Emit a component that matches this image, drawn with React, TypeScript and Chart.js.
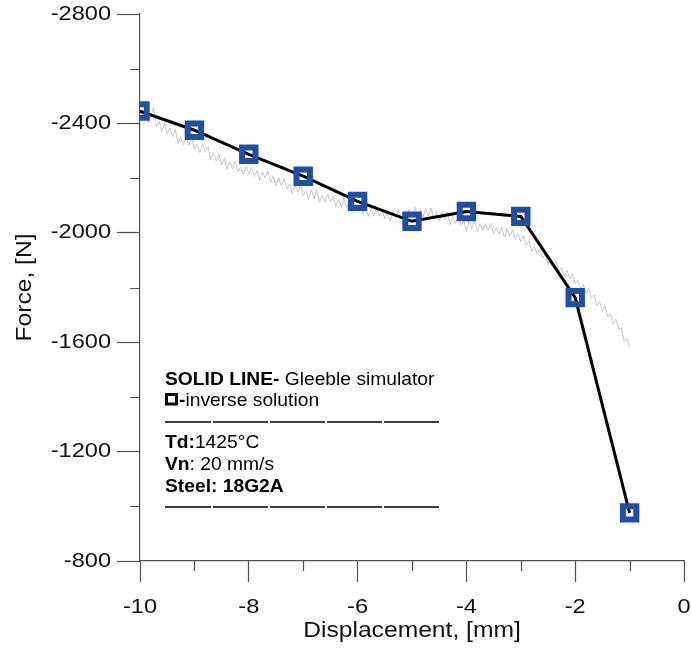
import React, { useEffect, useRef } from "react";
import { Chart, registerables } from "chart.js";

Chart.register(...registerables);

// ---- data ----
const inverseX = [-10, -9, -8, -7, -6, -5, -4, -3, -2, -1];
const inverseForce = [-2445, -2375, -2287, -2207, -2115, -2042, -2078, -2060, -1763, -976];

// Gleeble simulator record, sampled every 0.05 mm from -10 mm
const gleebleStart = -10;
const gleebleStep = 0.05;
const gleebleForce = [
  -2450, -2429, -2446, -2403, -2426, -2459, -2387, -2408, -2370, -2400,
  -2360, -2383, -2350, -2378, -2326, -2351, -2321, -2348, -2319, -2347,
  -2305, -2325, -2293, -2325, -2295, -2315, -2267, -2293, -2263, -2287,
  -2248, -2273, -2232, -2259, -2235, -2263, -2223, -2241, -2212, -2243,
  -2216, -2241, -2205, -2227, -2192, -2223, -2200, -2225, -2184, -2207,
  -2172, -2202, -2171, -2197, -2159, -2179, -2143, -2175, -2148, -2174,
  -2136, -2153, -2123, -2156, -2124, -2155, -2112, -2136, -2112, -2142,
  -2112, -2133, -2096, -2123, -2094, -2127, -2092, -2109, -2076, -2109,
  -2082, -2107, -2070, -2089, -2060, -2089, -2061, -2093, -2061, -2085,
  -2050, -2076, -2042, -2078, -2053, -2086, -2051, -2076, -2050, -2087,
  -2062, -2095, -2060, -2084, -2056, -2089, -2060, -2090, -2052, -2075,
  -2043, -2076, -2049, -2074, -2029, -2060, -2033, -2064, -2029, -2046,
  -2005, -2045, -2014, -2046, -2005, -2033, -2007, -2035, -2007, -2035,
  -1995, -2020, -1996, -2021, -1984, -2013, -1988, -2012, -1974, -1996,
  -1967, -1989, -1953, -1971, -1931, -1951, -1921, -1941, -1907, -1923,
  -1885, -1904, -1874, -1896, -1859, -1873, -1841, -1863, -1831, -1850,
  -1814, -1828, -1793, -1812, -1777, -1798, -1762, -1773, -1734, -1749,
  -1713, -1732, -1692, -1705, -1665, -1684, -1649, -1652, -1603, -1615,
  -1584,
];

const xMajorStep = 2;
const yMajorStep = 400;
const xMinorTicks = [-9, -7, -5, -3, -1];
const yMinorTicks = [-2600, -2200, -1800, -1400, -1000];

const xTitle = "Displacement, [mm]";
const yTitle = "Force, [N]";

// ---- styling ----
const FONT = "'Liberation Sans', Arial, sans-serif";
const TICK_SIZE = 20.5;
const TITLE_SIZE = 22;
const NOTE_SIZE = 18.5;
const STRETCH: Record<string, number> = { "20.5": 1.15, "22": 1.12, "18.5": 1.04 };
const AXIS_COLOR = "#505050";
const BLUE = "#1f4fa3";

function patchContext(ctx: CanvasRenderingContext2D) {
  const origFill = ctx.fillText.bind(ctx);
  const origMeasure = ctx.measureText.bind(ctx);
  const stretchFor = () => {
    const m = /([\d.]+)px/.exec(ctx.font);
    if (!m) return 1;
    return STRETCH[String(parseFloat(m[1]))] ?? 1;
  };
  (ctx as any).fillText = (text: string, x: number, y: number, maxWidth?: number) => {
    const s = stretchFor();
    if (s === 1) {
      if (maxWidth === undefined) origFill(text, x, y);
      else origFill(text, x, y, maxWidth);
      return;
    }
    ctx.save();
    ctx.translate(x, y);
    ctx.scale(s, 1);
    origFill(text, 0, 0);
    ctx.restore();
  };
  (ctx as any).measureText = (text: string) => {
    const m = origMeasure(text);
    const s = stretchFor();
    if (s === 1) return m;
    return {
      width: m.width * s,
      actualBoundingBoxLeft: m.actualBoundingBoxLeft * s,
      actualBoundingBoxRight: m.actualBoundingBoxRight * s,
      actualBoundingBoxAscent: m.actualBoundingBoxAscent,
      actualBoundingBoxDescent: m.actualBoundingBoxDescent,
      fontBoundingBoxAscent: m.fontBoundingBoxAscent,
      fontBoundingBoxDescent: m.fontBoundingBoxDescent,
    } as TextMetrics;
  };
}

const minorTicksPlugin = {
  id: "minorTicks",
  afterDraw(chart: any) {
    const ctx = chart.ctx as CanvasRenderingContext2D;
    const xs = chart.scales.x;
    const ys = chart.scales.y;
    const area = chart.chartArea;
    ctx.save();
    ctx.strokeStyle = AXIS_COLOR;
    ctx.lineWidth = 1.2;
    ctx.beginPath();
    for (const v of xMinorTicks) {
      const px = Math.round(xs.getPixelForValue(v)) + 0.5;
      ctx.moveTo(px, area.bottom);
      ctx.lineTo(px, area.bottom + 10);
    }
    for (const v of yMinorTicks) {
      const py = Math.round(ys.getPixelForValue(v)) + 0.5;
      ctx.moveTo(area.left, py);
      ctx.lineTo(area.left - 10, py);
    }
    ctx.stroke();
    ctx.restore();
  },
};

type Seg = { t: string; b?: boolean };

const notePlugin = {
  id: "note",
  afterDraw(chart: any) {
    const ctx = chart.ctx as CanvasRenderingContext2D;
    const left = chart.chartArea.left + 25;
    const drawLine = (y: number, segs: Seg[], startX = left) => {
      let x = startX;
      for (const s of segs) {
        ctx.font = `${s.b ? "bold " : ""}${NOTE_SIZE}px ${FONT}`;
        ctx.fillText(s.t, x, y);
        x += ctx.measureText(s.t).width;
      }
    };
    ctx.save();
    ctx.fillStyle = "#000";
    ctx.textAlign = "left";
    ctx.textBaseline = "alphabetic";
    drawLine(385, [{ t: "SOLID LINE-", b: true }, { t: " Gleeble simulator" }]);
    // square symbol
    ctx.strokeStyle = "#000";
    ctx.lineWidth = 3;
    ctx.strokeRect(left + 1.5, 394.5, 10, 9.5);
    drawLine(406, [{ t: "-", b: true }, { t: "inverse solution" }], left + 14);
    drawLine(448, [{ t: "Td:", b: true }, { t: "1425°C" }]);
    drawLine(470, [{ t: "Vn", b: true }, { t: ": 20 mm/s" }]);
    drawLine(492, [{ t: "Steel: 18G2A", b: true }]);
    // separators
    ctx.lineWidth = 1.5;
    ctx.setLineDash([55, 2]);
    ctx.lineDashOffset = 9;
    for (const y of [422, 507]) {
      ctx.beginPath();
      ctx.moveTo(left, y);
      ctx.lineTo(left + 275, y);
      ctx.stroke();
    }
    ctx.restore();
  },
};

export default function App() {
  const ref = useRef<HTMLCanvasElement | null>(null);

  useEffect(() => {
    document.body.style.margin = "0";
    const canvas = ref.current!;
    const ctx = canvas.getContext("2d")!;
    patchContext(ctx);

    const gleebleData = gleebleForce.map((f, i) => ({ x: gleebleStart + i * gleebleStep, y: f }));
    const inverseData = inverseX.map((x, i) => ({ x, y: inverseForce[i] }));

    const tickFont = { family: FONT, size: TICK_SIZE };
    const titleFont = { family: FONT, size: TITLE_SIZE };

    const chart = new Chart(ctx, {
      type: "line",
      data: {
        datasets: [
          {
            label: "inverse solution",
            data: inverseData,
            borderColor: "#000",
            borderWidth: 3,
            pointStyle: "rect",
            pointRadius: 9.5,
            pointBorderWidth: 6,
            pointBorderColor: BLUE,
            pointBackgroundColor: "rgba(0,0,0,0)",
            tension: 0,
          },
          {
            label: "Gleeble simulator",
            data: gleebleData,
            borderColor: "#c6c6c6",
            borderWidth: 1,
            pointRadius: 0,
            tension: 0,
          },
        ],
      },
      options: {
        animation: false,
        responsive: false,
        devicePixelRatio: 1,
        events: [],
        layout: { autoPadding: false, padding: { left: 0, top: 14, right: 7, bottom: 0 } },
        plugins: { legend: { display: false }, tooltip: { enabled: false } },
        scales: {
          x: {
            type: "linear",
            min: -10,
            max: 0,
            position: "bottom",
            ticks: {
              stepSize: xMajorStep,
              font: tickFont,
              color: "#111",
              padding: 13,
              maxRotation: 0,
              autoSkip: false,
              callback: (v: any) => String(v),
            },
            grid: { drawOnChartArea: false, drawTicks: true, tickLength: 21, tickColor: AXIS_COLOR, tickWidth: 1.2 },
            border: { display: true, color: AXIS_COLOR, width: 1.2 },
            title: { display: true, text: xTitle, font: titleFont, color: "#111", padding: { top: 0, bottom: 4 } },
            afterFit: (s: any) => {
              s.height = 87;
              s.paddingLeft = 0;
              s.paddingRight = 0;
            },
          },
          y: {
            type: "linear",
            min: -2800,
            max: -800,
            reverse: true,
            ticks: {
              stepSize: yMajorStep,
              font: tickFont,
              color: "#111",
              padding: 6,
              autoSkip: false,
              callback: (v: any) => String(v),
            },
            grid: { drawOnChartArea: false, drawTicks: true, tickLength: 23, tickColor: AXIS_COLOR, tickWidth: 1.2 },
            border: { display: true, color: AXIS_COLOR, width: 1.2 },
            title: { display: true, text: yTitle, font: titleFont, color: "#111", padding: { top: 12, bottom: 0 } },
            afterFit: (s: any) => {
              s.width = 140;
              s.paddingTop = 0;
              s.paddingBottom = 0;
            },
          },
        },
      },
      plugins: [minorTicksPlugin, notePlugin],
    } as any);

    return () => chart.destroy();
  }, []);

  return (
    <div style={{ width: 691, height: 648 }}>
      <canvas ref={ref} width={691} height={648} style={{ display: "block", width: 691, height: 648 }} />
    </div>
  );
}
